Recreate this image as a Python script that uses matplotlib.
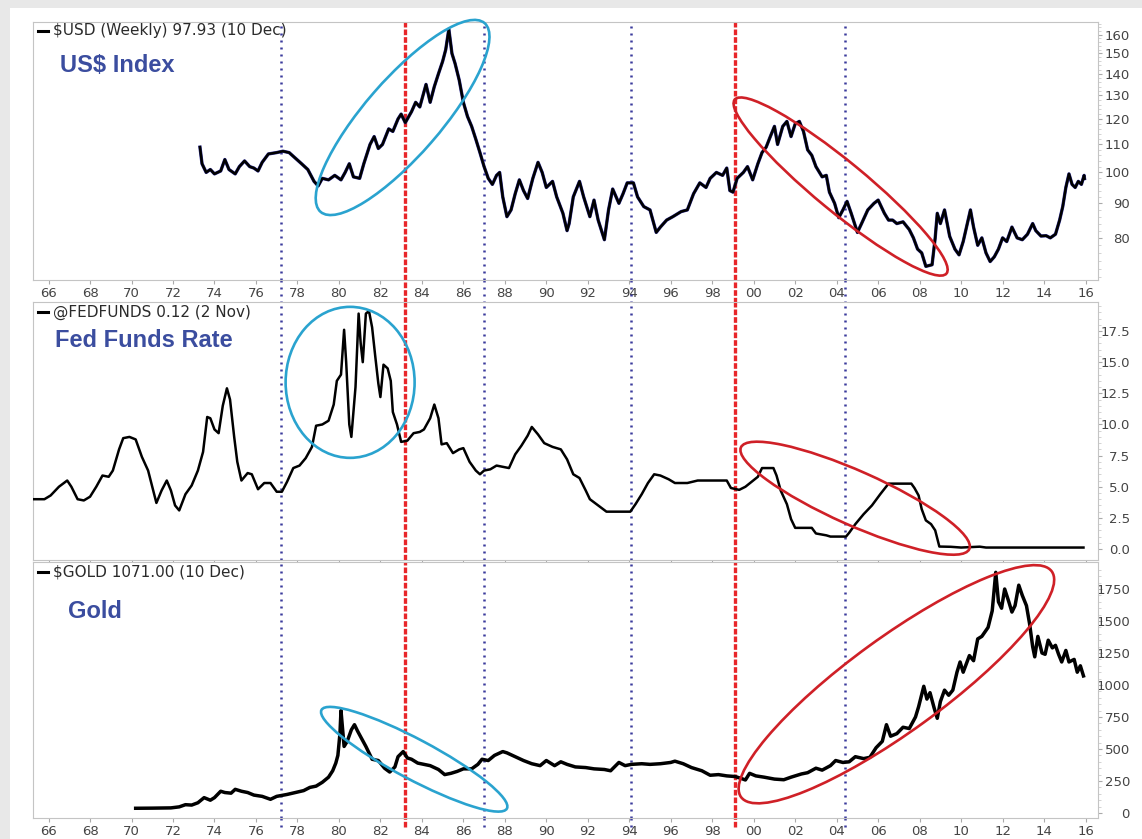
import matplotlib
matplotlib.use("Agg")
import matplotlib.pyplot as plt
from matplotlib.patches import Ellipse, Rectangle
from matplotlib.transforms import IdentityTransform
from matplotlib.ticker import FixedLocator, FixedFormatter, NullFormatter

W, H = 1142, 839

# US dollar index (weekly)
usd_years = [1973.3, 1973.4, 1973.6, 1973.8, 1974.0, 1974.3, 1974.5, 1974.7, 1975.0, 1975.2,
             1975.45, 1975.7, 1975.9, 1976.1, 1976.3, 1976.6, 1977.0, 1977.3, 1977.6, 1977.9,
             1978.2, 1978.5, 1978.8, 1979.0, 1979.2, 1979.5, 1979.8, 1980.1, 1980.3, 1980.5,
             1980.7, 1981.0, 1981.2, 1981.5, 1981.7, 1981.9, 1982.1, 1982.4, 1982.6, 1982.85,
             1983.0, 1983.2, 1983.5, 1983.7, 1983.9, 1984.2, 1984.4, 1984.6, 1984.8, 1985.0,
             1985.15, 1985.3, 1985.45, 1985.6, 1985.8, 1986.0, 1986.2, 1986.4, 1986.6, 1986.8,
             1987.0, 1987.2, 1987.4, 1987.6, 1987.75, 1987.9, 1988.1, 1988.3, 1988.5, 1988.7,
             1988.9, 1989.1, 1989.35, 1989.6, 1989.8, 1990.0, 1990.3, 1990.5, 1990.8, 1991.0,
             1991.1, 1991.3, 1991.6, 1991.8, 1992.1, 1992.3, 1992.5, 1992.8, 1993.0, 1993.2,
             1993.5, 1993.7, 1993.9, 1994.2, 1994.4, 1994.7, 1995.0, 1995.3, 1995.5, 1995.8,
             1996.1, 1996.5, 1996.8, 1997.1, 1997.4, 1997.7, 1997.9, 1998.2, 1998.5, 1998.7,
             1998.85, 1999.0, 1999.2, 1999.5, 1999.7, 1999.95, 2000.2, 2000.4, 2000.6, 2000.8,
             2001.0, 2001.15, 2001.4, 2001.6, 2001.8, 2002.0, 2002.2, 2002.4, 2002.6, 2002.8,
             2003.0, 2003.3, 2003.5, 2003.65, 2003.9, 2004.1, 2004.3, 2004.5, 2004.7, 2005.0,
             2005.2, 2005.5, 2005.8, 2006.0, 2006.3, 2006.5, 2006.7, 2006.9, 2007.2, 2007.5,
             2007.7, 2007.9, 2008.1, 2008.3, 2008.6, 2008.75, 2008.85, 2009.0, 2009.2, 2009.45,
             2009.7, 2009.9, 2010.1, 2010.3, 2010.45, 2010.6, 2010.8, 2011.0, 2011.2, 2011.4,
             2011.6, 2011.8, 2012.0, 2012.2, 2012.45, 2012.7, 2012.95, 2013.2, 2013.45, 2013.6,
             2013.85, 2014.1, 2014.3, 2014.55, 2014.75, 2014.9, 2015.05, 2015.2, 2015.35, 2015.5,
             2015.65, 2015.8, 2015.93, 2015.95]
usd_values = [109, 103, 100, 101, 99.5, 100.5, 104.5, 101, 99.5, 102,
              104, 102, 101.5, 100.5, 103.5, 106.5, 107, 107.5, 107, 105,
              103, 101, 97, 95.5, 98, 97.5, 99, 97.5, 100, 103,
              98.5, 98, 103, 110, 113, 108.5, 110, 116, 115, 120,
              122, 118.5, 123, 127, 125, 135, 127, 134, 140, 146,
              152, 163, 150, 145, 137, 127, 121, 117, 112, 107,
              102, 98, 96, 99, 100, 92, 86, 88, 93, 97.5,
              94, 91.5, 98, 103.5, 100, 95, 97, 92, 87, 82,
              84, 92, 97, 92, 86, 91, 85, 79.5, 88, 94.5,
              90, 93, 96.5, 96.5, 92, 89, 88, 81.5, 83, 85,
              86, 87.5, 88, 93, 96.5, 95, 98, 100, 99, 101.5,
              94, 93.5, 98, 100, 102, 97.5, 103, 107, 109, 113,
              117, 110, 117, 119, 113, 118, 119, 115, 108, 106,
              102, 98.5, 99, 93.5, 90, 85.7, 88, 90.6, 87, 81.5,
              84, 88, 90, 91, 87, 85, 85, 84, 84.5, 82.3,
              80, 77, 76, 72.6, 73, 80, 87, 84, 88, 80.4,
              77, 75.5, 79, 84, 88, 83, 78, 80, 76, 73.8,
              75, 77, 80, 79, 83, 80, 79.5, 81, 84, 82,
              80.5, 80.6, 80, 81, 85, 89, 95, 99.5, 96, 95,
              97, 96, 99, 97.93]

# effective fed funds rate
fed_years = [1965.3, 1965.8, 1966.1, 1966.5, 1966.9, 1967.1, 1967.4, 1967.7, 1968.0, 1968.3,
             1968.6, 1968.9, 1969.1, 1969.4, 1969.6, 1969.9, 1970.2, 1970.5, 1970.8, 1971.0,
             1971.2, 1971.45, 1971.7, 1971.9, 1972.1, 1972.3, 1972.6, 1972.9, 1973.2, 1973.45,
             1973.65, 1973.8, 1974.0, 1974.2, 1974.4, 1974.6, 1974.75, 1974.95, 1975.1, 1975.3,
             1975.6, 1975.8, 1976.1, 1976.4, 1976.7, 1977.0, 1977.25, 1977.5, 1977.8, 1978.1,
             1978.4, 1978.7, 1978.9, 1979.2, 1979.5, 1979.75, 1979.9, 1980.1, 1980.25, 1980.35,
             1980.5, 1980.6, 1980.8, 1980.95, 1981.05, 1981.15, 1981.3, 1981.45, 1981.6, 1981.75,
             1981.9, 1982.0, 1982.15, 1982.35, 1982.5, 1982.6, 1982.8, 1983.0, 1983.3, 1983.6,
             1983.9, 1984.1, 1984.4, 1984.6, 1984.8, 1984.95, 1985.2, 1985.5, 1985.8, 1986.0,
             1986.3, 1986.6, 1986.8, 1987.0, 1987.3, 1987.6, 1987.9, 1988.2, 1988.5, 1988.8,
             1989.1, 1989.3, 1989.6, 1989.9, 1990.3, 1990.7, 1991.0, 1991.3, 1991.6, 1991.9,
             1992.1, 1992.5, 1992.9, 1993.5, 1994.05, 1994.3, 1994.6, 1994.9, 1995.2, 1995.5,
             1995.9, 1996.2, 1996.8, 1997.3, 1998.0, 1998.7, 1998.9, 1999.3, 1999.6, 1999.9,
             2000.2, 2000.4, 2000.95, 2001.1, 2001.3, 2001.6, 2001.8, 2002.0, 2002.8, 2003.0,
             2003.5, 2003.7, 2004.45, 2004.6, 2004.9, 2005.3, 2005.7, 2006.1, 2006.5, 2007.6,
             2007.75, 2007.95, 2008.1, 2008.3, 2008.55, 2008.75, 2008.95, 2009.5, 2010.0, 2010.9,
             2011.2, 2015.9]
fed_values = [4.0, 4.0, 4.3, 5.0, 5.5, 5.0, 4.0, 3.9, 4.2, 5.0,
              5.9, 5.8, 6.3, 8.0, 8.9, 9.0, 8.8, 7.4, 6.3, 5.0,
              3.7, 4.7, 5.5, 4.7, 3.5, 3.1, 4.4, 5.1, 6.3, 7.8,
              10.6, 10.5, 9.6, 9.3, 11.5, 12.9, 12.0, 9.0, 7.0, 5.5,
              6.1, 6.0, 4.8, 5.3, 5.3, 4.6, 4.6, 5.4, 6.5, 6.7,
              7.3, 8.2, 9.9, 10.0, 10.3, 11.6, 13.5, 14.0, 17.6, 15.0,
              10.0, 9.0, 13.0, 18.9, 16.5, 15.0, 18.9, 19.1, 17.8, 15.5,
              13.3, 12.2, 14.8, 14.5, 13.5, 11.0, 10.0, 8.6, 8.7, 9.3,
              9.4, 9.6, 10.5, 11.6, 10.5, 8.4, 8.5, 7.7, 8.0, 8.1,
              7.0, 6.3, 6.0, 6.3, 6.4, 6.7, 6.6, 6.5, 7.6, 8.3,
              9.1, 9.8, 9.2, 8.5, 8.2, 8.0, 7.2, 6.0, 5.7, 4.7,
              4.0, 3.5, 3.0, 3.0, 3.0, 3.6, 4.4, 5.3, 6.0, 5.9,
              5.6, 5.3, 5.3, 5.5, 5.5, 5.5, 4.9, 4.75, 5.0, 5.4,
              5.8, 6.5, 6.5, 5.9, 4.7, 3.6, 2.4, 1.7, 1.7, 1.25,
              1.1, 1.0, 1.0, 1.3, 2.0, 2.8, 3.5, 4.4, 5.25, 5.25,
              4.9, 4.3, 3.2, 2.3, 2.0, 1.5, 0.2, 0.18, 0.12, 0.19,
              0.12, 0.12]

# gold price
gold_years = [1970.2, 1971.0, 1971.9, 1972.3, 1972.6, 1972.9, 1973.2, 1973.5, 1973.8, 1974.0,
              1974.3, 1974.5, 1974.8, 1975.0, 1975.3, 1975.6, 1975.9, 1976.3, 1976.7, 1977.0,
              1977.5, 1977.9, 1978.3, 1978.6, 1978.9, 1979.2, 1979.5, 1979.7, 1979.85, 1979.95,
              1980.05, 1980.1, 1980.18, 1980.25, 1980.4, 1980.6, 1980.75, 1980.9, 1981.1, 1981.3,
              1981.6, 1981.9, 1982.2, 1982.45, 1982.7, 1982.85, 1983.1, 1983.3, 1983.5, 1983.8,
              1984.1, 1984.4, 1984.8, 1985.1, 1985.4, 1985.7, 1986.0, 1986.4, 1986.7, 1986.9,
              1987.2, 1987.5, 1987.9, 1988.1, 1988.5, 1988.9, 1989.3, 1989.7, 1990.0, 1990.4,
              1990.7, 1991.0, 1991.4, 1991.9, 1992.3, 1992.8, 1993.1, 1993.5, 1993.8, 1994.1,
              1994.6, 1995.0, 1995.5, 1996.0, 1996.2, 1996.6, 1997.0, 1997.5, 1997.9, 1998.3,
              1998.7, 1999.1, 1999.4, 1999.6, 1999.8, 2000.1, 2000.5, 2001.0, 2001.45, 2001.8,
              2002.3, 2002.6, 2003.0, 2003.3, 2003.7, 2003.95, 2004.3, 2004.6, 2004.9, 2005.3,
              2005.6, 2005.9, 2006.2, 2006.4, 2006.6, 2006.9, 2007.2, 2007.5, 2007.8, 2007.95,
              2008.2, 2008.35, 2008.5, 2008.7, 2008.85, 2009.0, 2009.2, 2009.4, 2009.6, 2009.8,
              2009.95, 2010.1, 2010.4, 2010.6, 2010.8, 2011.0, 2011.3, 2011.5, 2011.67, 2011.8,
              2011.95, 2012.1, 2012.3, 2012.45, 2012.6, 2012.78, 2012.95, 2013.15, 2013.3, 2013.45,
              2013.55, 2013.7, 2013.9, 2014.05, 2014.2, 2014.4, 2014.55, 2014.7, 2014.85, 2015.05,
              2015.2, 2015.45, 2015.6, 2015.75, 2015.9]
gold_values = [37, 38, 40, 48, 65, 62, 80, 120, 100, 120,
               170, 160, 155, 185, 170, 160, 140, 130, 107, 130,
               145, 160, 175, 200, 210, 240, 280, 330, 390, 450,
               620, 800, 650, 520, 560, 650, 690, 640, 580, 520,
               420, 410, 350, 320, 360, 440, 480, 430, 420, 390,
               380, 370, 340, 300, 310, 325, 345, 345, 380, 420,
               410, 450, 480, 470, 440, 410, 385, 370, 410, 370,
               400, 380, 360, 355, 345, 340, 330, 395, 370, 380,
               385, 380, 385, 395, 405, 385, 355, 330, 295, 300,
               290, 285, 270, 258, 310, 290, 280, 265, 260, 280,
               305, 315, 350, 335, 370, 410, 395, 400, 440, 425,
               435, 510, 560, 690, 600, 620, 670, 660, 750, 830,
               990, 890, 940, 820, 740, 870, 960, 920, 960, 1100,
               1180, 1100, 1230, 1190, 1360, 1380, 1450, 1580, 1880, 1650,
               1600, 1750, 1650, 1570, 1620, 1780, 1700, 1620, 1480, 1300,
               1220, 1380, 1250, 1240, 1350, 1290, 1310, 1240, 1180, 1270,
               1180, 1200, 1100, 1150, 1071]

blue_lines = [1977.2, 1987.0, 1994.1, 2004.4]
red_lines = [1983.2, 1999.1]

usd_ticks = [80, 90, 100, 110, 120, 130, 140, 150, 160]
fed_ticks = [0.0, 2.5, 5.0, 7.5, 10.0, 12.5, 15.0, 17.5]
gold_ticks = [0, 250, 500, 750, 1000, 1250, 1500, 1750]
year_ticks = list(range(1966, 2017, 2))

TEXT_BLUE = "#3b4d9f"
CYAN = "#2aa3cf"
RED = "#cf2027"
BLUE_DOT = dict(color="#3a3a9c", lw=1.8, ls=(0, (0.8, 2.0)))
RED_DASH = dict(color="#e8262a", lw=2.4, ls=(0, (1.7, 0.6)))


def make_panel(fig, top, bottom, show_x):
    ax = fig.add_axes([33 / W, 1 - bottom / H, (1098 - 33) / W, (bottom - top) / H])
    ax.set_xlim(1965.25, 2016.6)
    for s in ax.spines.values():
        s.set_color("#c4c4c4")
    ax.yaxis.tick_right()
    ax.xaxis.set_major_locator(FixedLocator(year_ticks))
    ax.xaxis.set_major_formatter(FixedFormatter(["%02d" % (y % 100) for y in year_ticks]))
    ax.tick_params(axis="x", length=3, color="#aaaaaa", labelcolor="#444444",
                   labelsize=9.5, pad=2, labelbottom=show_x)
    ax.tick_params(axis="y", which="major", length=3, color="#aaaaaa",
                   labelcolor="#444444", labelsize=9.5, pad=20)
    ax.tick_params(axis="y", which="minor", length=2, color="#cccccc")
    for v in blue_lines:
        ax.axvline(v, zorder=2, **BLUE_DOT)
    for v in red_lines:
        ax.axvline(v, zorder=2, **RED_DASH)
    return ax


def right_align(ax):
    for lab in ax.get_yticklabels():
        lab.set_ha("right")


def frac(ax, x_px, y_px, top):
    h = ax.get_position().height * H
    return (x_px - 33) / 1065, 1 - (y_px - top) / h


def header(ax, text, y_px, top):
    x0, yf = frac(ax, 38, y_px, top)
    x1, _ = frac(ax, 48, y_px, top)
    ax.plot([x0, x1], [yf, yf], transform=ax.transAxes,
            color="black", lw=2.2, clip_on=False, zorder=5)
    xt, _ = frac(ax, 53, y_px, top)
    ax.text(xt, yf, text, transform=ax.transAxes, fontsize=11,
            color="#2b2b2b", va="center", ha="left", family="DejaVu Sans")


def big_label(ax, text, x_px, y_px, top):
    xf, yf = frac(ax, x_px, y_px, top)
    ax.text(xf, yf, text, transform=ax.transAxes,
            fontsize=17, fontweight="bold", color=TEXT_BLUE, family="Liberation Sans",
            va="baseline", ha="left")


def ring(fig, ax, year, value, w, h, angle, color):
    cx, cy = ax.transData.transform((year, value))
    fig.add_artist(Ellipse((cx, cy), w, h, angle=angle, fill=False, edgecolor=color,
                           lw=1.9, transform=IdentityTransform(), zorder=10))


fig = plt.figure(figsize=(W / 100, H / 100), dpi=100)
fig.patch.set_facecolor("#e8e8e8")
fig.add_artist(Rectangle((10 / W, 0), 1, 1 - 8 / H, transform=fig.transFigure,
                         facecolor="white", edgecolor="none", zorder=0))

# panel 1: US dollar index (log scale)
ax1 = make_panel(fig, 22, 280, True)
ax1.plot(usd_years, usd_values, color="#2d2d8f", lw=2.4, zorder=3)
ax1.plot(usd_years, usd_values, color="black", lw=1.8, zorder=4)
ax1.set_yscale("log")
ax1.set_ylim(69.3, 167)
ax1.yaxis.set_major_locator(FixedLocator(usd_ticks))
ax1.yaxis.set_major_formatter(FixedFormatter([str(t) for t in usd_ticks]))
ax1.yaxis.set_minor_locator(FixedLocator(list(range(70, 168, 2))))
ax1.yaxis.set_minor_formatter(NullFormatter())
right_align(ax1)
header(ax1, "$USD (Weekly) 97.93 (10 Dec)", 31, 22)
big_label(ax1, "US$ Index", 60, 72, 22)

# panel 2: fed funds
ax2 = make_panel(fig, 302, 560, False)
ax2.plot(fed_years, fed_values, color="black", lw=1.8, zorder=3)
ax2.set_ylim(-0.88, 19.83)
ax2.yaxis.set_major_locator(FixedLocator(fed_ticks))
ax2.yaxis.set_major_formatter(FixedFormatter(["%.1f" % t for t in fed_ticks]))
ax2.yaxis.set_minor_locator(FixedLocator([i * 0.5 for i in range(0, 40)]))
right_align(ax2)
header(ax2, "@FEDFUNDS 0.12 (2 Nov)", 312, 302)
big_label(ax2, "Fed Funds Rate", 55, 347, 302)

# panel 3: gold
ax3 = make_panel(fig, 562, 818, True)
ax3.plot(gold_years, gold_values, color="black", lw=2.5, zorder=3)
ax3.set_ylim(-39, 1961)
ax3.yaxis.set_major_locator(FixedLocator(gold_ticks))
ax3.yaxis.set_major_formatter(FixedFormatter([str(t) for t in gold_ticks]))
ax3.yaxis.set_minor_locator(FixedLocator(list(range(0, 1950, 50))))
right_align(ax3)
header(ax3, "$GOLD 1071.00 (10 Dec)", 572, 562)
big_label(ax3, "Gold", 68, 618, 562)

# dotted / dashed markers run through the gaps between panels
for ax, lo in ((ax1, -0.09), (ax3, -0.035)):
    for v in blue_lines:
        ax.axvline(v, ymin=lo, ymax=0, clip_on=False, zorder=2, **BLUE_DOT)
    for v in red_lines:
        ax.axvline(v, ymin=lo, ymax=0, clip_on=False, zorder=2, **RED_DASH)

# highlight rings
ring(fig, ax1, 1983.07, 120.6, 250, 76, 49, CYAN)
ring(fig, ax1, 2004.19, 95.3, 274, 50, -39.4, RED)
ring(fig, ax2, 1980.54, 13.38, 129, 151, 0, CYAN)
ring(fig, ax2, 2004.89, 4.08, 250, 54, -24, RED)
ring(fig, ax3, 1983.63, 420, 210, 40, -28, CYAN)
ring(fig, ax3, 2006.88, 1006, 384, 94, 36, RED)

fig.savefig("out.png", dpi=100, facecolor=fig.get_facecolor())
